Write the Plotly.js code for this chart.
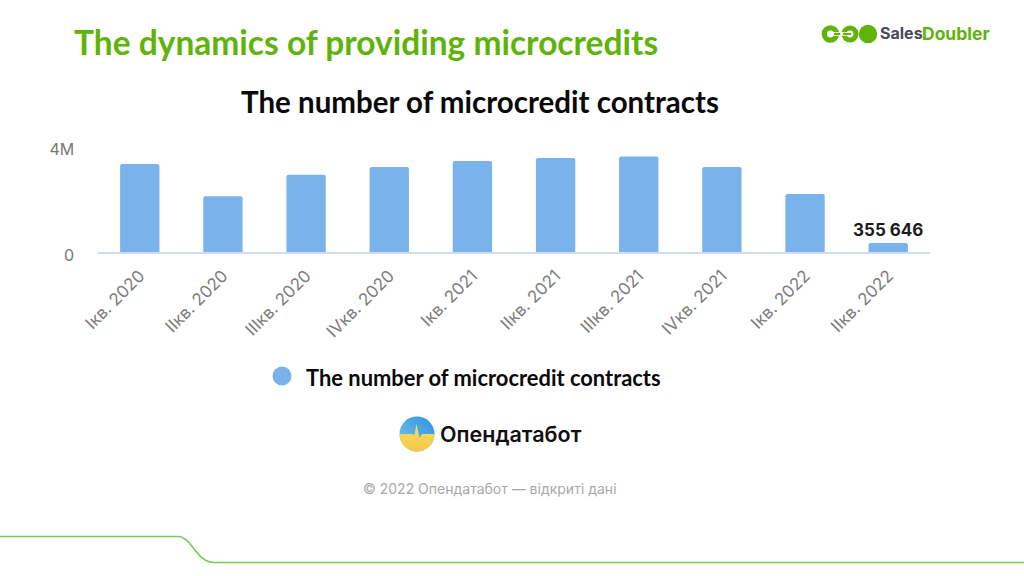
<!DOCTYPE html>
<html>
<head>
<meta charset="utf-8">
<script src="https://cdn.plot.ly/plotly-3.0.1.min.js"></script>
<style>html,body{margin:0;padding:0;background:#fff}#chart{width:1024px;height:576px}</style>
</head>
<body>
<div id="chart"></div>
<script>
const quarters = ["Iкв. 2020","IIкв. 2020","IIIкв. 2020","IVкв. 2020","Iкв. 2021","IIкв. 2021","IIIкв. 2021","IVкв. 2021","Iкв. 2022","IIкв. 2022"];
const contracts = [3330000,2120000,2930000,3220000,3450000,3560000,3620000,3220000,2200000,355646];
const barLabels = ["","","","","","","","","","355 646"];
const yTickValues = [0,4000000];
const yTickLabels = ["0","4M"];
const seriesName = "The number of microcredit contracts";
const headline = "The dynamics of providing microcredits";

const W = 1024, H = 576;
const px = x => x / W, py = y => 1 - y / H;
const GREEN = "#5fb30a", BAR = "#7ab3ec";

function note(text, x, y, size, color, family, weight) {
  return {text: text, x: px(x), y: py(y), xref:"paper", yref:"paper",
    xanchor:"left", yanchor:"middle", showarrow:false,
    font:{size:size,color:color,family:family,weight:weight||400}};
}
function circle(cx,cy,r,color){
  return {type:"circle",xref:"paper",yref:"paper",x0:px(cx-r),x1:px(cx+r),y0:py(cy+r),y1:py(cy-r),
    fillcolor:color,line:{width:0},layer:"above"};
}
function rect(x0,y0,x1,y1,color){
  return {type:"rect",xref:"paper",yref:"paper",x0:px(x0),x1:px(x1),y0:py(y1),y1:py(y0),
    fillcolor:color,line:{width:0},layer:"above"};
}
function rulePath(){
  const p=(x,y)=>px(x)+","+py(y);
  return "M"+p(0,536.5)+" L"+p(178,536.5)+" C"+p(192,536.5)+" "+p(196,562.5)+" "+p(214,562.5)+" L"+p(1024,562.5);
}
const botLogo = 'data:image/svg+xml;utf8,' + encodeURIComponent(
 '<svg xmlns="http://www.w3.org/2000/svg" width="36" height="36" viewBox="0 0 36 36">'+
 '<defs><linearGradient id="b" x1="0" y1="1" x2="1" y2="0"><stop offset="0" stop-color="#74cbdc"/><stop offset="1" stop-color="#2f8fe8"/></linearGradient>'+
 '<linearGradient id="y" x1="0" y1="0" x2="0" y2="1"><stop offset="0" stop-color="#f9dc62"/><stop offset="1" stop-color="#f6c544"/></linearGradient>'+
 '<filter id="s"><feGaussianBlur stdDeviation="0.6"/></filter>'+
 '<clipPath id="c"><circle cx="18" cy="18" r="17.5"/></clipPath></defs>'+
 '<g clip-path="url(#c)"><rect width="36" height="36" fill="url(#b)"/>'+
 '<path filter="url(#s)" d="M-3 18 L13 18 L15.5 19 L17.5 8 L20.5 22 L23 18 L39 18 L39 39 L-3 39 Z" fill="url(#y)"/></g></svg>');

const trace = {
  type:"bar", x:quarters, y:contracts, name:seriesName,
  text:barLabels, textposition:"outside", cliponaxis:false, constraintext:"none",
  textfont:{family:"Inter",size:17,color:"#1c1c1c",weight:700},
  marker:{color:BAR,cornerradius:2.5,line:{width:0}},
  hoverinfo:"x+y"
};
const layout = {
  width:W,height:H,margin:{l:0,r:0,t:0,b:0},paper_bgcolor:"#fff",plot_bgcolor:"#fff",
  showlegend:false,bargap:0.527,
  title:{text:seriesName,x:px(480),xanchor:"center",y:py(103),yanchor:"middle",
    font:{family:"Lato",size:29.5,color:"#0a0a0a",weight:700}},
  xaxis:{domain:[px(98.2),px(929.8)],type:"category",tickangle:-45,automargin:false,
    tickfont:{family:"Inter",size:17,color:"#7d7d7d"},showgrid:false,ticklabelstandoff:5,
    showline:true,linecolor:"#cfdcf3",linewidth:1.5,ticks:"",zeroline:false},
  yaxis:{domain:[1-252.4/H,1-146.3/H],range:[0,4000000],tickvals:yTickValues,ticktext:yTickLabels,
    automargin:false,tickfont:{family:"Inter",size:16,color:"#777777"},ticklabelstandoff:23,ticklabelshift:3,
    showgrid:true,gridcolor:"#e9e9ee",gridwidth:1.5,zeroline:false,showline:false,ticks:""},
  images:[{source:botLogo,xref:"paper",yref:"paper",x:px(399),y:py(416),sizex:px(36),sizey:36/H,
    xanchor:"left",yanchor:"top",sizing:"stretch",layer:"above"}],
  shapes:[
    {type:"path",path:rulePath(),xref:"paper",yref:"paper",line:{color:"#7ccb52",width:1.6},layer:"above"},
    circle(282,376,9.5,BAR),
    circle(830.4,34,8.8,GREEN),circle(830.4,34,3.4,"#fff"),rect(830.4,32.2,840,35.8,"#fff"),rect(834,33,840.5,35,GREEN),
    circle(850,34,8.6,GREEN),circle(850,34,3.4,"#fff"),rect(840.5,32.2,850,35.8,"#fff"),rect(843,33,851,35,GREEN),
    circle(868,34,9.2,GREEN)
  ],
  annotations:[
    note(headline,72,42,33.5,GREEN,"Lato",700),
    note("Sales",878,33.5,16,"#4a4a55","Inter",700),
    note("Doubler",920,33.5,17.5,GREEN,"Inter",700),
    note(seriesName,304,377,21.9,"#0a0a0a","Lato",700),
    note("Опендатабот",438,434,21.5,"#111111","Inter",600),
    note("© 2022 Опендатабот — відкриті дані",361,488,14,"#a9a9a9","Inter",400)
  ]
};
Plotly.newPlot("chart",[trace],layout,{displayModeBar:false,responsive:false});
</script>
</body>
</html>
